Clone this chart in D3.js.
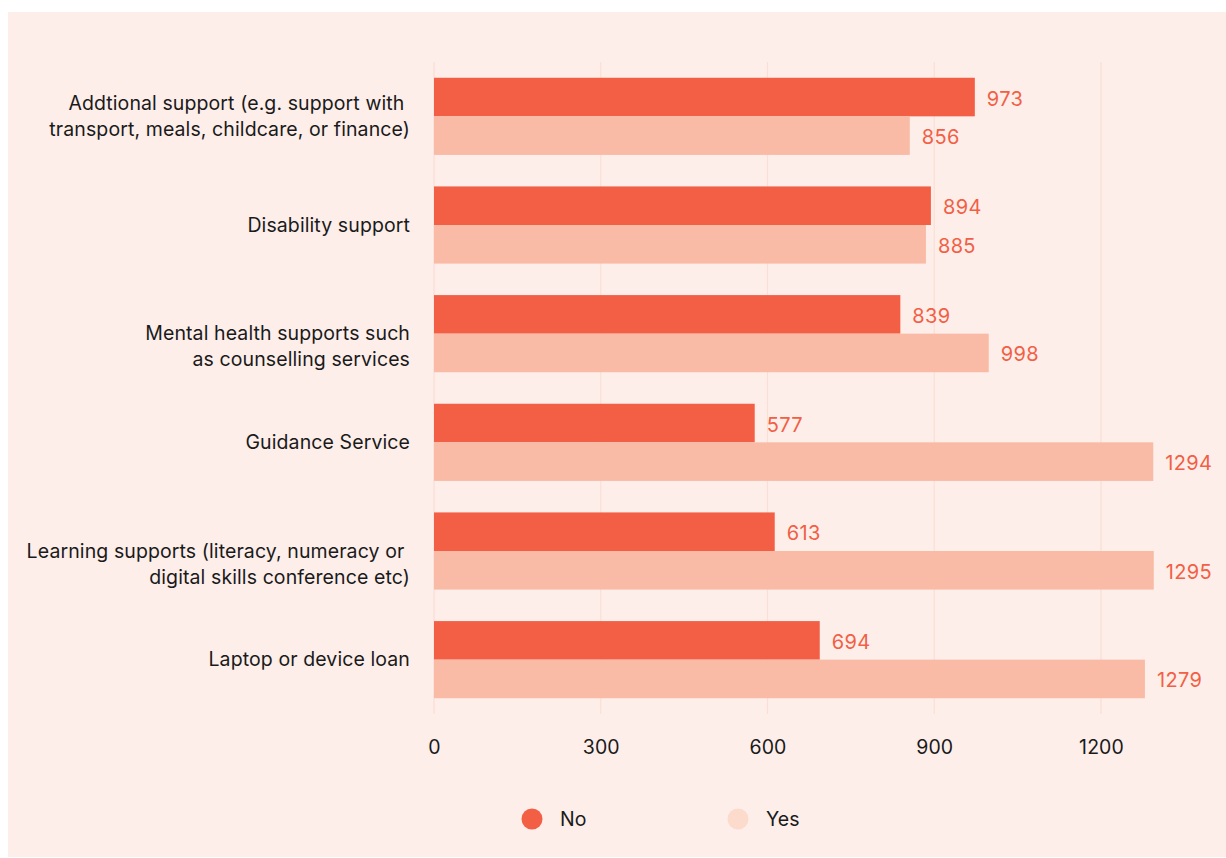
<!DOCTYPE html>
<html>
<head>
<meta charset="utf-8">
<script src="https://cdn.jsdelivr.net/npm/d3@7"></script>
<style>
  html, body { margin: 0; padding: 0; background: #ffffff; }
  svg { display: block; }
  text { font-family: "Inter", "Lato", sans-serif; letter-spacing: 0.1px; }
  text.val { letter-spacing: 0.35px; }
</style>
</head>
<body>
<svg id="chart" width="1226" height="858"></svg>
<script>
// Support types, one entry per row (label lines; an empty line keeps its slot)
const categories = [
  ["Addtional support (e.g. support with ", "transport, meals, childcare, or finance)"],
  ["Disability support"],
  ["", "Mental health supports such", "as counselling services"],
  ["Guidance Service"],
  ["", "Learning supports (literacy, numeracy or ", "digital skills conference etc)"],
  ["Laptop or device loan"]
];
const seriesNames = ["No", "Yes"];
const noValues  = [973, 894, 839, 577, 613, 694];
const yesValues = [856, 885, 998, 1294, 1295, 1279];
const xTicks = [0, 300, 600, 900, 1200];

const colors = { No: "#f25f45", Yes: "#f9bba5" };
const legendColors = { No: "#f25f45", Yes: "#fcdacc" };

const svg = d3.select("#chart");
const W = 1226, H = 858;

// panel background
svg.append("rect")
  .attr("x", 8).attr("y", 12)
  .attr("width", W - 8).attr("height", 845)
  .attr("fill", "#fdeeea");

const plot = { left: 434, right: 1101, top: 62, bottom: 714 };

const x = d3.scaleLinear().domain([0, 1200]).range([plot.left, plot.right]);
const y = d3.scaleBand()
  .domain(d3.range(categories.length))
  .range([plot.top, plot.bottom])
  .paddingInner(0.29)
  .paddingOuter(0.145);
const ySub = d3.scaleBand().domain(seriesNames).range([0, y.bandwidth()]);

// vertical gridlines
svg.append("g").selectAll("line")
  .data(xTicks)
  .join("line")
  .attr("x1", d => x(d)).attr("x2", d => x(d))
  .attr("y1", plot.top).attr("y2", plot.bottom)
  .attr("stroke", "#fbded4")
  .attr("stroke-width", 1.2);

// x axis tick labels
const xAxis = d3.axisBottom(x).tickValues(xTicks).tickFormat(d3.format("d"))
  .tickSize(0).tickPadding(0);
const gx = svg.append("g")
  .attr("transform", `translate(0,${plot.bottom + 33})`)
  .call(xAxis);
gx.select(".domain").remove();
gx.selectAll("text")
  .attr("dy", "0.35em")
  .attr("fill", "#1a1a1a")
  .attr("font-size", 19.5)
  .style("font-family", "Inter, Lato, sans-serif");

// grouped bars
const rows = categories.map((c, i) => ({ i, No: noValues[i], Yes: yesValues[i] }));
const groups = svg.append("g").selectAll("g")
  .data(rows)
  .join("g")
  .attr("transform", d => `translate(0,${y(d.i)})`);

groups.selectAll("rect")
  .data(d => seriesNames.map(k => ({ key: k, value: d[k] })))
  .join("rect")
  .attr("x", x(0))
  .attr("y", d => ySub(d.key))
  .attr("width", d => x(d.value) - x(0))
  .attr("height", ySub.bandwidth())
  .attr("fill", d => colors[d.key]);

// value labels
groups.selectAll("text.val")
  .data(d => seriesNames.map(k => ({ key: k, value: d[k] })))
  .join("text")
  .attr("class", "val")
  .attr("x", d => x(d.value) + 12)
  .attr("y", d => ySub(d.key) + ySub.bandwidth() / 2 + 1.5)
  .attr("dy", "0.35em")
  .attr("fill", "#f25f45")
  .attr("font-size", 20)
  .text(d => d.value);

// category labels, right-aligned against the axis
const catLabels = svg.append("g").selectAll("text")
  .data(categories)
  .join("text")
  .attr("text-anchor", "end")
  .attr("fill", "#1a1a1a")
  .attr("font-size", 19.5)
  .attr("transform", (d, i) => `translate(410,${y(i) + y.bandwidth() / 2})`);
catLabels.each(function(lines) {
  const t = d3.select(this);
  const lh = 26;
  const start = -(lines.length - 1) * lh / 2;
  lines.forEach((ln, j) => {
    t.append("tspan")
      .attr("x", 0)
      .attr("y", start + j * lh)
      .attr("dy", "0.35em")
      .style("white-space", "pre")
      .text(ln);
  });
});

// legend
const legend = svg.append("g").attr("transform", "translate(532,819)");
const legendItems = legend.selectAll("g")
  .data(seriesNames)
  .join("g")
  .attr("transform", (d, i) => `translate(${i * 206},0)`);
legendItems.append("circle")
  .attr("r", 10.5)
  .attr("fill", d => legendColors[d]);
legendItems.append("text")
  .attr("x", 28)
  .attr("dy", "0.35em")
  .attr("fill", "#1a1a1a")
  .attr("font-size", 19.5)
  .text(d => d);
</script>
</body>
</html>
